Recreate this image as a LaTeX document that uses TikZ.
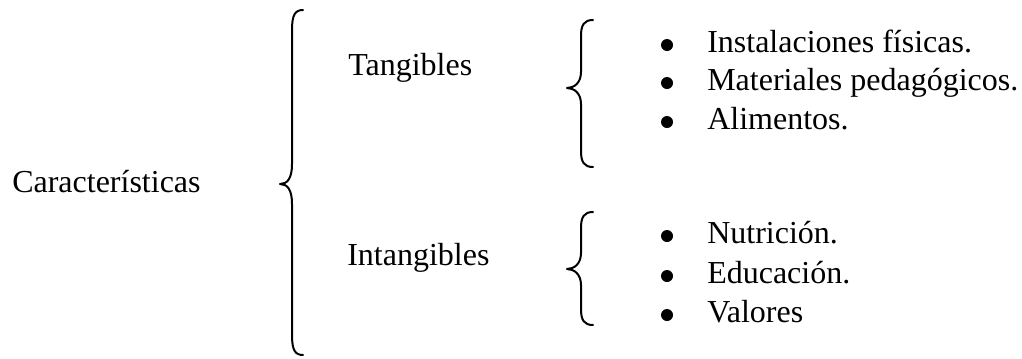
\documentclass[tikz,border=0pt]{standalone}
\usepackage{fontspec}
\setmainfont{Liberation Serif}
\newcommand\curlybrace[7]{%
  % #1 end x, #2 stem x, #3 tip x, #4 top y, #5 tip y, #6 bottom y, #7 curl length
  \draw[bracestroke] (#1,#4) .. controls (#2+3,#4) and (#2,#4+5) .. (#2,#4+#7)
    -- (#2,#5-#7) .. controls (#2,#5-5) and (#3+7,#5) .. (#3,#5)
    .. controls (#3+7,#5) and (#2,#5+5) .. (#2,#5+#7)
    -- (#2,#6-#7) .. controls (#2,#6-5) and (#2+3,#6) .. (#1,#6);}
\begin{document}
\begin{tikzpicture}[x=0.75pt,y=-0.75pt,
  lbl/.style={anchor=base west,inner sep=0pt,font=\fontsize{24}{28}\selectfont},
  bul/.style={circle,fill=black,inner sep=0pt,minimum size=9pt},
  bracestroke/.style={line width=1.5pt,line cap=round,line join=round}]
\useasboundingbox (0,0) rectangle (1022,358);
% main heading and the two groups
\node[lbl] (car) at (12,192) {Características};
\node[lbl] (tan) at (348,75) {Tangibles};
\node[lbl] (int) at (347,265) {Intangibles};
% braces
\curlybrace{303}{292}{280}{10}{184}{355}{20}
\curlybrace{593}{581}{567}{20}{88}{167}{16}
\curlybrace{593}{581}{567}{212}{269}{325}{16}
% tangible items
\foreach \t/\y [count=\i] in {Instalaciones físicas./52, Materiales pedagógicos./90, Alimentos./129}{
  \node[lbl] (t\i) at (707,\y) {\t};
  \node[bul] (tb\i) at (667,\y-7) {};
}
% intangible items
\foreach \t/\y [count=\i] in {Nutrición./243, Educación./283, Valores/322}{
  \node[lbl] (n\i) at (707,\y) {\t};
  \node[bul] (nb\i) at (667,\y-7) {};
}
\end{tikzpicture}
\end{document}
